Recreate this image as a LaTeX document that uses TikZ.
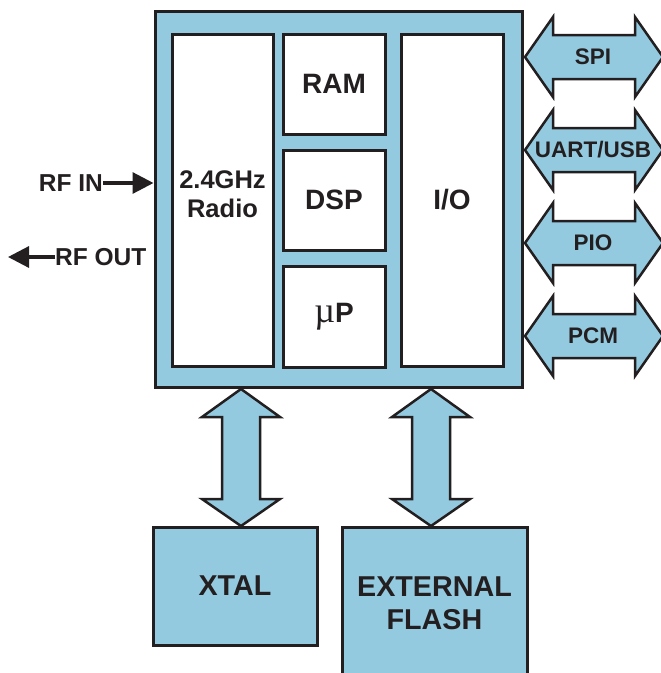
\documentclass[tikz,border=0pt]{standalone}
\usepackage{fontspec}
\setmainfont{Liberation Sans}
\newfontfamily\serifmu{Liberation Serif}
\usetikzlibrary{calc,arrows.meta}
\definecolor{fillblue}{HTML}{94CADF}
\definecolor{ink}{HTML}{231F20}
\tikzset{
  blk/.style={draw=ink,line width=3pt,fill=fillblue,inner sep=0pt,outer sep=0pt},
  wbox/.style={draw=ink,line width=3pt,fill=white,inner sep=0pt,outer sep=0pt,text=ink,
    font=\fontsize{28}{30}\selectfont\bfseries},
  dbl/.style={draw=ink,line width=2.5pt,fill=fillblue,line join=miter},
  lbl/.style={text=ink,font=\fontsize{22.5}{24}\selectfont\bfseries,inner sep=0pt},
  bigtxt/.style={text=ink,font=\fontsize{28.7}{33}\selectfont\bfseries,align=center,inner sep=0pt},
  radiotxt/.style={text=ink,font=\fontsize{25.5}{29}\selectfont\bfseries,align=center,inner sep=0pt},
  rftxt/.style={text=ink,font=\fontsize{24.5}{26}\selectfont\bfseries,inner sep=0pt},
  rfarrow/.style={draw=ink,line width=3.2pt,-{Triangle[length=21pt,width=21pt]}},
}
% vertical double arrow: #1 top tip, #2 bottom tip
\newcommand\vdarrow[2]{%
  \draw[dbl] (#1) -- ($(#1)+(39,28)$) -- ($(#1)+(19,28)$) -- ($(#2)+(19,-27)$) -- ($(#2)+(39,-27)$)
    -- (#2) -- ($(#2)+(-39,-27)$) -- ($(#2)+(-19,-27)$) -- ($(#1)+(-19,28)$) -- ($(#1)+(-39,28)$) -- cycle;}
% horizontal double arrow: #1 left tip, #2 right tip, #3 label
\newcommand\hdarrow[3]{%
  \draw[dbl] (#1) -- ($(#1)+(28,-40)$) -- ($(#1)+(28,-22)$) -- ($(#2)+(-28,-22)$) -- ($(#2)+(-28,-40)$)
    -- (#2) -- ($(#2)+(-28,40)$) -- ($(#2)+(-28,22)$) -- ($(#1)+(28,22)$) -- ($(#1)+(28,40)$) -- cycle;
  \node[lbl] at ($(#1)!0.5!(#2)+(-1,0)$) {#3};}
\begin{document}
\begin{tikzpicture}[x=1pt,y=-1pt]
\useasboundingbox (0,0) rectangle (661,673);

% main chip
\node[blk,minimum width=367pt,minimum height=376pt] (main) at (338.5,199) {};
\node[wbox,minimum width=101pt,minimum height=332pt] (radio) at (222.5,200) {};
\node[radiotxt] at ($(radio.center)+(0,-6)$) {2.4GHz\\Radio};
\node[wbox,minimum width=102pt,minimum height=100pt] (ram) at (334,84) {RAM};
\node[wbox,minimum width=102pt,minimum height=100pt] (dsp) at (334,200) {DSP};
\node[wbox,minimum width=102pt,minimum height=101pt] (up) at (334,316.5) {{\serifmu\mdseries\fontsize{36}{30}\selectfont µ}P};
\node[wbox,minimum width=102pt,minimum height=332pt] (io) at (452,200) {I/O};

% external blocks
\node[blk,minimum width=164pt,minimum height=118pt] (xtal) at (235,586) {};
\node[bigtxt] at (xtal.center) {XTAL};
\node[blk,minimum width=185pt,minimum height=153pt] (flash) at (434.5,603.5) {};
\node[bigtxt] at (flash.center) {EXTERNAL\\FLASH};

% vertical connectors
\coordinate (xb) at ($(xtal.north)+(6,-1)$);
\coordinate (xt) at ($(xb |- main.south)+(0,2)$);
\vdarrow{xt}{xb}
\coordinate (fb) at ($(flash.north)+(-3.5,-1)$);
\coordinate (ft) at ($(fb |- main.south)+(0,2)$);
\vdarrow{ft}{fb}

% right side interfaces
\coordinate (s1) at ($(main.east |- 0,57)+(3,0)$);   \coordinate (s2) at (663,57);
\coordinate (u1) at ($(main.east |- 0,150)+(3,0)$);  \coordinate (u2) at (663,150);
\coordinate (p1) at ($(main.east |- 0,243)+(3,0)$);  \coordinate (p2) at (663,243);
\coordinate (c1) at ($(main.east |- 0,336)+(3,0)$);  \coordinate (c2) at (663,336);
\hdarrow{s1}{s2}{SPI}
\hdarrow{u1}{u2}{UART/USB}
\hdarrow{p1}{p2}{PIO}
\hdarrow{c1}{c2}{PCM}

% RF
\node[rftxt,anchor=east] (rfin) at (103,183) {RF IN};
\draw[rfarrow] (rfin.east) -- ($(main.west |- rfin.east)+(-1.5,0)$);
\node[rftxt,anchor=west] (rfout) at (55,257) {RF OUT};
\coordinate (rfoutend) at (8,257);
\draw[rfarrow] (rfout.west) -- (rfoutend);
\end{tikzpicture}
\end{document}
